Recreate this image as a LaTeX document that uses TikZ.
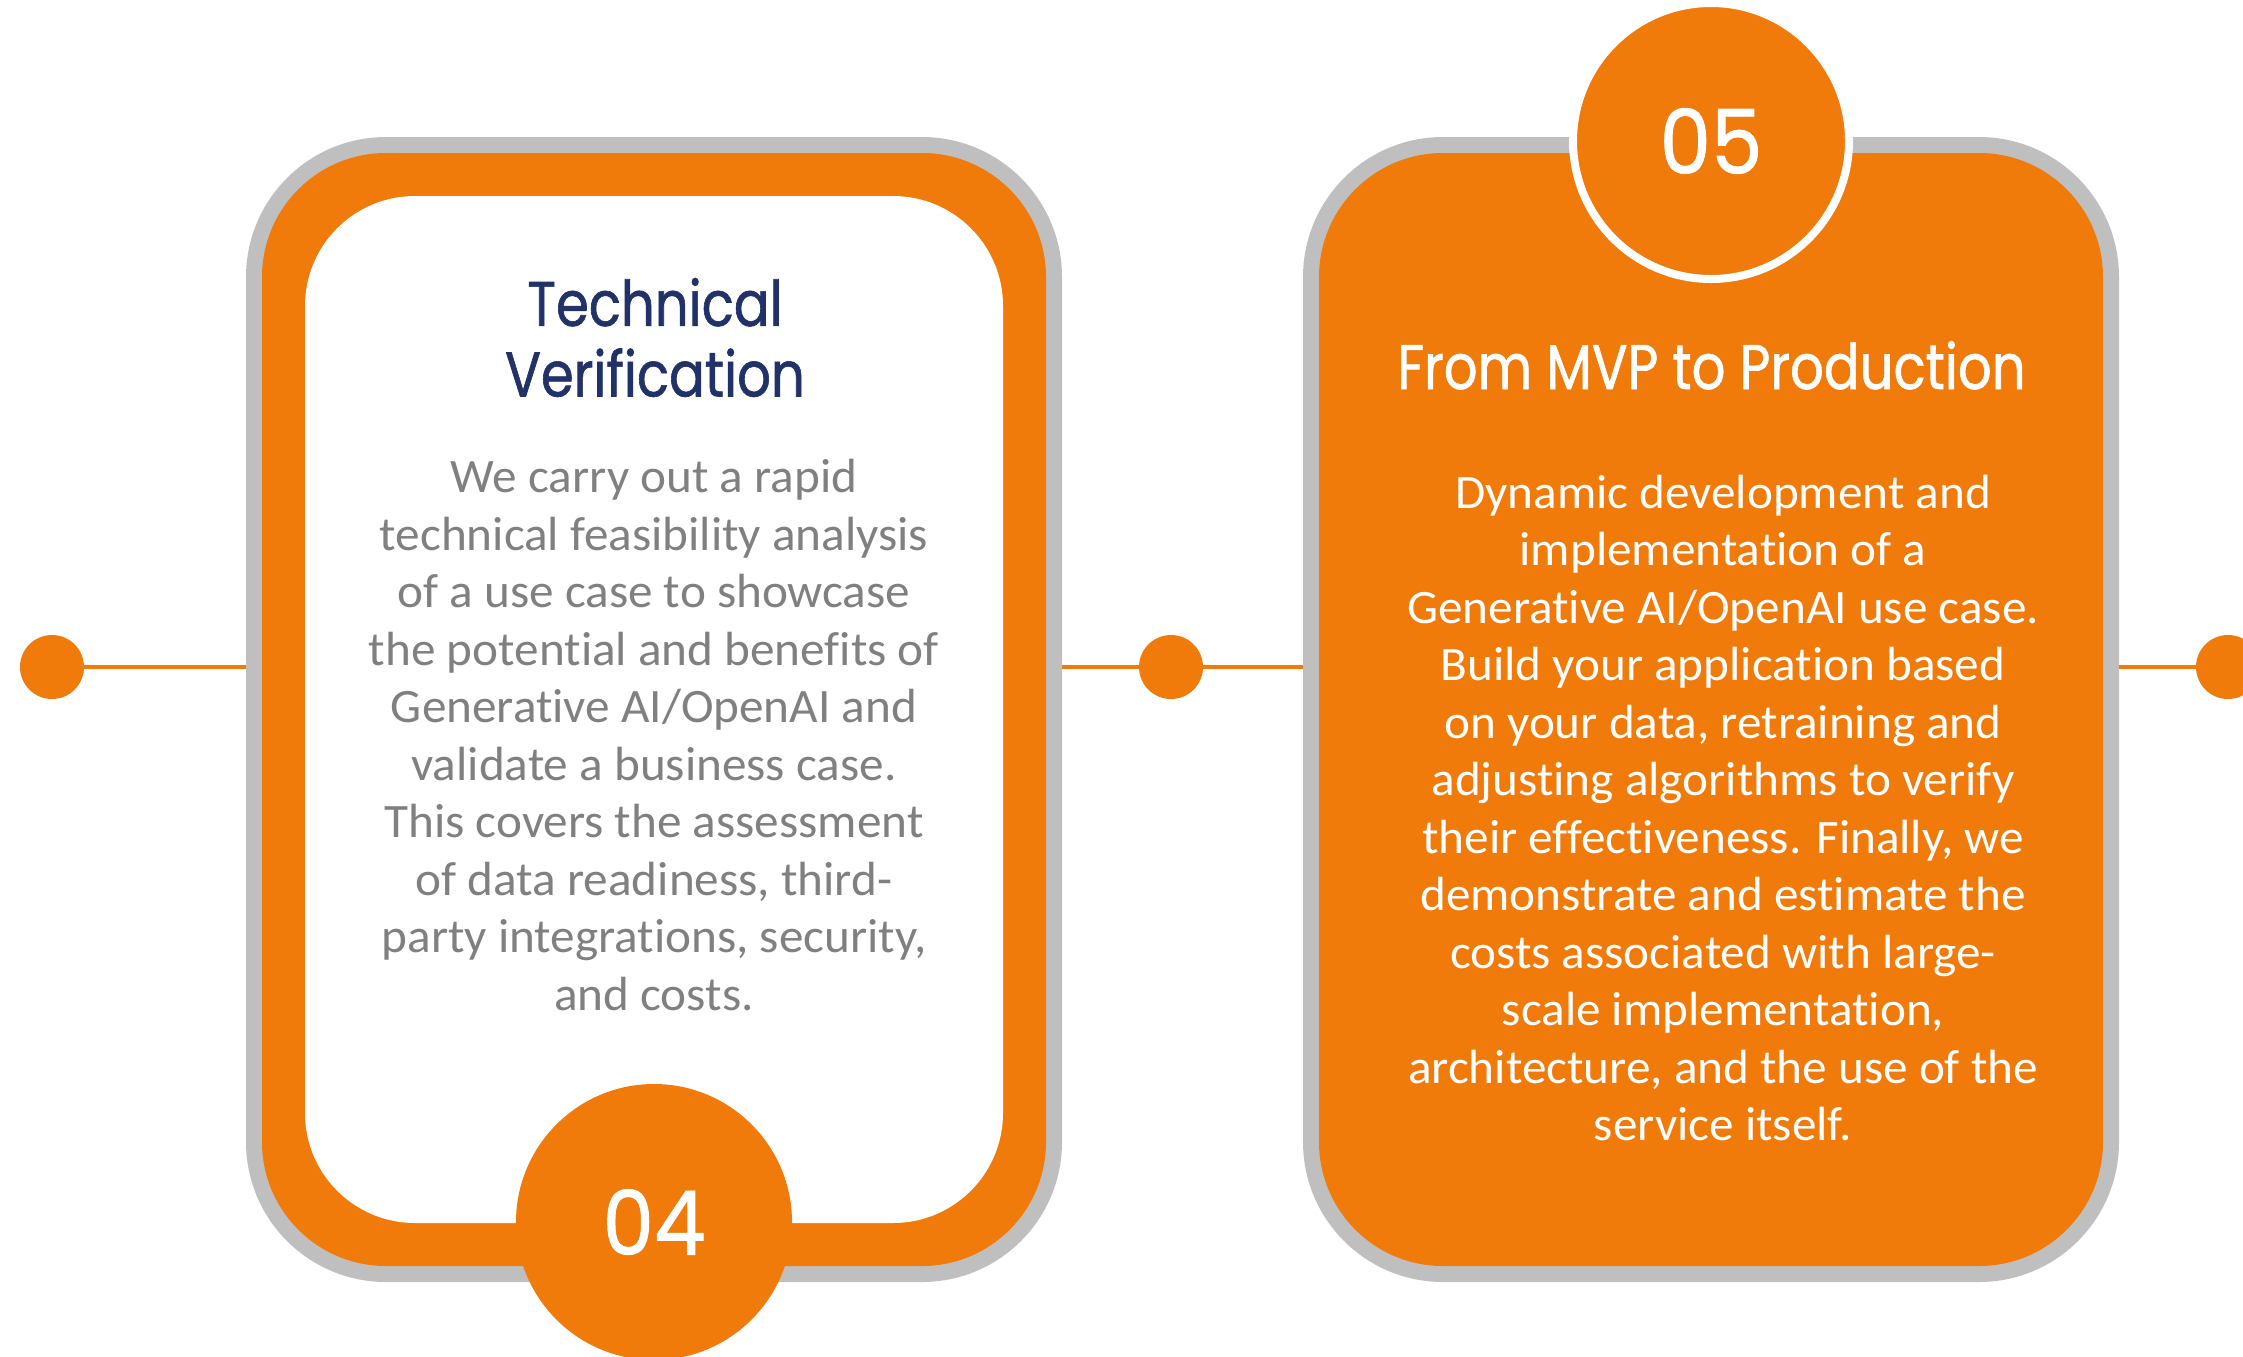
\documentclass[tikz,border=0pt]{standalone}
\usepackage{fontspec}
\setmainfont{Carlito}
\newfontfamily\titlefont[FakeStretch=0.84,FakeBold=1]{Poppins}
\newfontfamily\numfont[FakeStretch=0.92,FakeBold=1]{Poppins}
\newfontfamily\bodyfont[Ligatures=NoCommon,FakeStretch=1.025]{Carlito}
\definecolor{brandorange}{RGB}{240,122,10}
\definecolor{cardgray}{RGB}{191,191,191}
\definecolor{titlenavy}{RGB}{33,50,104}
\definecolor{bodygray}{RGB}{128,128,128}
\tikzset{
  outerbox/.style={fill=cardgray, draw=none, rounded corners=70pt, inner sep=0pt,
    minimum width=408pt, minimum height=572.5pt},
  midbox/.style={fill=brandorange, draw=none, rounded corners=62pt, inner sep=0pt,
    minimum width=392pt, minimum height=556.5pt},
  innerbox/.style={fill=white, draw=none, rounded corners=55pt, inner sep=0pt,
    minimum width=349pt, minimum height=513.5pt},
  dotnode/.style={circle, fill=brandorange, draw=none, inner sep=0pt, minimum size=32pt},
  numcircle/.style={circle, fill=brandorange, inner sep=0pt, minimum size=138pt,
    text=white, font=\numfont\fontsize{44.5pt}{50pt}\selectfont},
  link/.style={draw=brandorange, line width=1.75pt},
  titletext/.style={align=center, inner sep=0pt,
    font=\titlefont\fontsize{31.5pt}{34pt}\selectfont},
  bodytext/.style={align=center, inner sep=0pt,
    font=\bodyfont\fontsize{24pt}{28.75pt}\selectfont}
}
\begin{document}
\begin{tikzpicture}[x=0.5pt,y=-0.5pt]
\useasboundingbox (0,0) rectangle (2243,1356);
% left card (04)
\node[outerbox] (card4) at (654,709.5) {};
\node[midbox] (band4) at (654,709.5) {};
\node[innerbox] (inner4) at (654,709.5) {};
\node[numcircle] (num4) at (654,1222) {04};
\node[titletext, text=titlenavy] (title4) at (655,347.4) {\strut Technical\\Verification\strut};
\node[bodytext, text=bodygray] (body4) at (654,740) {\strut We carry out a rapid\\
technical feasibility analysis\\
of a use case to showcase\\
the potential and benefits of\\
Generative AI/OpenAI and\\
validate a business case.\\
This covers the assessment\\
of data readiness, third-\\
party integrations, security,\\
and costs.\strut};
% right card (05)
\node[outerbox] (card5) at (1711,709.5) {};
\node[midbox] (band5) at (1711,709.5) {};
\node[numcircle, draw=white, line width=4pt] (num5) at (1711,141) {05};
\node[titletext, text=white, anchor=base] (title5) at (1711.5,389) {From MVP to Production};
\node[bodytext, text=white] (body5) at (1723,812.75) {\strut Dynamic development and\\
implementation of a\\
Generative AI/OpenAI use case.\\
Build your application based\\
on your data, retraining and\\
adjusting algorithms to verify\\
their effectiveness. Finally, we\\
demonstrate and estimate the\\
costs associated with large-\\
scale implementation,\\
architecture, and the use of the\\
service itself.\strut};
% timeline dots and links
\node[dotnode] (dotL) at (52,667) {};
\node[dotnode] (dotM) at (1171,667) {};
\node[dotnode] (dotR) at (2228,667) {};
\draw[link] (dotL) -- (dotL -| card4.west);
\draw[link] (card4.east |- dotM) -- (dotM);
\draw[link] (dotM) -- (dotM -| card5.west);
\draw[link] (card5.east |- dotR) -- (dotR);
\end{tikzpicture}
\end{document}
